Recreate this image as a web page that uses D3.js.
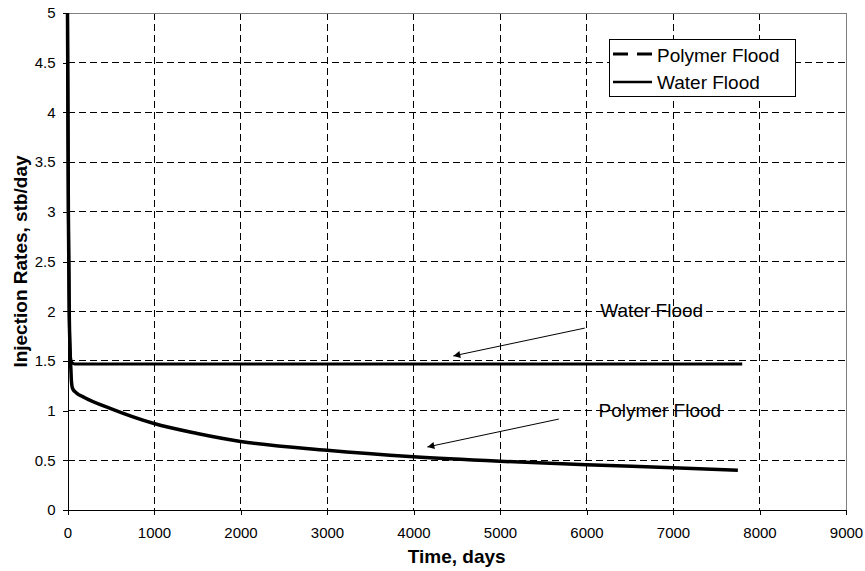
<!DOCTYPE html>
<html>
<head>
<meta charset="utf-8">
<script src="https://cdn.jsdelivr.net/npm/d3@7"></script>
<style>
  html, body { margin: 0; padding: 0; background: #fff; }
  svg { display: block; font-family: "Liberation Sans", Arial, sans-serif; }
</style>
</head>
<body>
<svg id="chart" width="865" height="571"></svg>
<script>
// ---- Data ----
const xTicks = [0, 1000, 2000, 3000, 4000, 5000, 6000, 7000, 8000, 9000];
const yTicks = [0, 0.5, 1, 1.5, 2, 2.5, 3, 3.5, 4, 4.5, 5];
const yTickLabels = ["0", "0.5", "1", "1.5", "2", "2.5", "3", "3.5", "4", "4.5", "5"];

const waterTime  = [0, 10, 20, 30, 45, 80, 7800];
const waterRate  = [5, 3.0, 2.0, 1.6, 1.49, 1.47, 1.47];

const polymerTime = [0, 10, 20, 30, 40, 45, 60, 100, 200, 500, 1000, 1500, 2000, 3000, 4000, 5000, 6000, 7000, 7750];
const polymerRate = [5, 3.0, 2.0, 1.6, 1.4, 1.3, 1.22, 1.18, 1.13, 1.02, 0.87, 0.77, 0.69, 0.60, 0.535, 0.49, 0.455, 0.425, 0.40];

const seriesNames = ["Polymer Flood", "Water Flood"];
const annotations = [
  { label: "Water Flood",   tx: 6160, ty: 1.94, fromX: 5980, fromY: 1.83, toX: 4460, toY: 1.55 },
  { label: "Polymer Flood", tx: 6140, ty: 0.935, fromX: 5680, fromY: 0.915, toX: 4160, toY: 0.634 }
];

// ---- Layout ----
const svg = d3.select("#chart");
const mLeft = 67.5, mRight = 846, mTop = 13, mBottom = 510;
const x = d3.scaleLinear().domain([0, 9000]).range([mLeft, mRight]);
const y = d3.scaleLinear().domain([0, 5]).range([mBottom, mTop]);

const defs = svg.append("defs");
defs.append("marker")
  .attr("id", "arrow").attr("viewBox", "0 0 10 10")
  .attr("refX", 10).attr("refY", 5)
  .attr("markerWidth", 11).attr("markerHeight", 7)
  .attr("markerUnits", "userSpaceOnUse")
  .attr("orient", "auto")
  .append("path").attr("d", "M0,0 L10,5 L0,10 Z").attr("fill", "#000");
defs.append("clipPath").attr("id", "plotclip")
  .append("rect").attr("x", mLeft - 3).attr("y", mTop).attr("width", mRight - mLeft + 6).attr("height", mBottom - mTop);

// gridlines
const grid = svg.append("g").attr("shape-rendering", "crispEdges");
grid.selectAll("line.h").data(yTicks.filter(v => v > 0 && v < 5)).join("line")
  .attr("x1", mLeft).attr("x2", mRight)
  .attr("y1", d => y(d)).attr("y2", d => y(d))
  .attr("stroke", "#000").attr("stroke-width", 1).attr("stroke-dasharray", "7,4");
grid.selectAll("line.v").data(xTicks.filter(v => v > 0 && v < 9000)).join("line")
  .attr("x1", d => x(d)).attr("x2", d => x(d))
  .attr("y1", mTop).attr("y2", mBottom)
  .attr("stroke", "#000").attr("stroke-width", 1).attr("stroke-dasharray", "7,4");

// plot border (top / right grey)
svg.append("line").attr("x1", mLeft).attr("x2", mRight).attr("y1", y(5)).attr("y2", y(5))
  .attr("stroke", "#808080").attr("shape-rendering", "crispEdges");
svg.append("line").attr("x1", mRight).attr("x2", mRight).attr("y1", mTop).attr("y2", mBottom)
  .attr("stroke", "#808080").attr("shape-rendering", "crispEdges");

// axes
const xAxis = d3.axisBottom(x).tickValues(xTicks).tickSize(5).tickSizeOuter(0).tickPadding(12).tickFormat(d3.format("d"));
const gx = svg.append("g").attr("transform", `translate(0,${mBottom})`).call(xAxis);
const yAxis = d3.axisLeft(y).tickValues(yTicks).tickSize(5).tickSizeOuter(0).tickPadding(7)
  .tickFormat((d, i) => yTickLabels[i]);
const gy = svg.append("g").attr("transform", `translate(${mLeft},0)`).call(yAxis);
[gx, gy].forEach(g => {
  g.selectAll("text").attr("font-size", 15).attr("fill", "#000").attr("font-family", "Liberation Sans, Arial, sans-serif");
  g.selectAll("line,path").attr("stroke", "#000").attr("shape-rendering", "crispEdges");
});

// lines
const lineGen = d3.line().x(d => x(d[0])).y(d => y(d[1])).curve(d3.curveMonotoneX);
const plot = svg.append("g").attr("clip-path", "url(#plotclip)");
plot.append("path")
  .datum(waterTime.map((t, i) => [t, waterRate[i]]))
  .attr("d", lineGen).attr("fill", "none").attr("stroke", "#000").attr("stroke-width", 3);
plot.append("path")
  .datum(polymerTime.map((t, i) => [t, polymerRate[i]]))
  .attr("d", lineGen).attr("fill", "none").attr("stroke", "#000").attr("stroke-width", 3.5);

// annotations
annotations.forEach(a => {
  svg.append("line")
    .attr("x1", x(a.fromX)).attr("y1", y(a.fromY))
    .attr("x2", x(a.toX)).attr("y2", y(a.toY))
    .attr("stroke", "#000").attr("stroke-width", 1).attr("marker-end", "url(#arrow)");
  svg.append("text").attr("x", x(a.tx)).attr("y", y(a.ty))
    .attr("font-size", 19).attr("fill", "#000").text(a.label);
});

// legend
const lg = svg.append("g");
lg.append("rect").attr("x", 609.5).attr("y", 39.5).attr("width", 186).attr("height", 57)
  .attr("fill", "#fff").attr("stroke", "#000").attr("stroke-width", 1);
lg.append("line").attr("x1", 613).attr("x2", 652).attr("y1", 54).attr("y2", 54)
  .attr("stroke", "#000").attr("stroke-width", 3).attr("stroke-dasharray", "15,9");
lg.append("line").attr("x1", 613).attr("x2", 652).attr("y1", 82).attr("y2", 82)
  .attr("stroke", "#000").attr("stroke-width", 2.5);
lg.append("text").attr("x", 657).attr("y", 61.5).attr("font-size", 19).text(seriesNames[0]);
lg.append("text").attr("x", 657).attr("y", 89).attr("font-size", 19).text(seriesNames[1]);

// axis titles
svg.append("text").attr("x", (mLeft + mRight) / 2).attr("y", 563)
  .attr("text-anchor", "middle").attr("font-size", 19).attr("font-weight", "bold").text("Time, days");
svg.append("text").attr("transform", `translate(27,${(mTop + mBottom) / 2}) rotate(-90)`)
  .attr("text-anchor", "middle").attr("font-size", 19).attr("font-weight", "bold").text("Injection Rates, stb/day");
</script>
</body>
</html>
